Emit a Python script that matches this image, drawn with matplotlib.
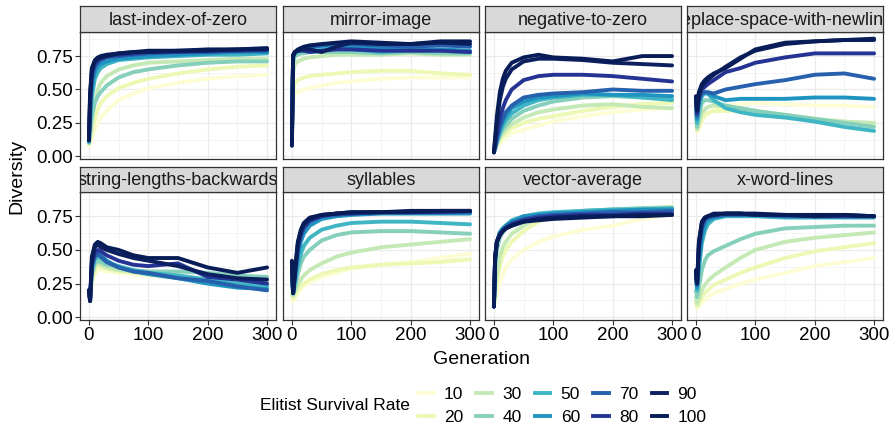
"""
Diversity over generations, one panel per problem, one line per elitist survival rate
"""
import matplotlib
matplotlib.use('Agg')
import matplotlib.pyplot as plt
from matplotlib.lines import Line2D
from matplotlib.ticker import MultipleLocator

plt.rcParams['font.family'] = ['Liberation Sans', 'DejaVu Sans']

gens = [0, 2, 5, 10, 15, 20, 30, 50, 75, 100, 150, 200, 250, 300]
rates = [10, 20, 30, 40, 50, 60, 70, 80, 90, 100]
colors = ['#fdfdd5', '#eef8b5', '#c5e9b5', '#86d0bb', '#40b6c4',
          '#2094c0', '#2761ad', '#253494', '#0c2060', '#081d58']

problems = ['last-index-of-zero', 'mirror-image', 'negative-to-zero',
            'replace-space-with-newline', 'string-lengths-backwards',
            'syllables', 'vector-average', 'x-word-lines']

# one row per survival rate (10 ... 100), one column per generation in gens
last_index_of_zero = [
    [0.08, 0.10, 0.14, 0.20, 0.25, 0.29, 0.34, 0.42, 0.47, 0.51, 0.55, 0.58, 0.60, 0.61],
    [0.09, 0.12, 0.18, 0.28, 0.35, 0.40, 0.45, 0.51, 0.55, 0.58, 0.62, 0.65, 0.67, 0.68],
    [0.10, 0.15, 0.28, 0.42, 0.50, 0.55, 0.60, 0.65, 0.68, 0.70, 0.71, 0.72, 0.73, 0.73],
    [0.10, 0.18, 0.30, 0.40, 0.45, 0.48, 0.53, 0.59, 0.63, 0.65, 0.68, 0.70, 0.71, 0.71],
    [0.11, 0.25, 0.45, 0.58, 0.63, 0.66, 0.69, 0.72, 0.73, 0.74, 0.75, 0.76, 0.76, 0.77],
    [0.11, 0.30, 0.52, 0.63, 0.67, 0.69, 0.71, 0.73, 0.74, 0.75, 0.76, 0.77, 0.78, 0.78],
    [0.12, 0.35, 0.58, 0.67, 0.70, 0.72, 0.74, 0.75, 0.76, 0.77, 0.78, 0.78, 0.79, 0.79],
    [0.12, 0.40, 0.62, 0.69, 0.72, 0.73, 0.75, 0.76, 0.77, 0.78, 0.78, 0.79, 0.79, 0.80],
    [0.12, 0.45, 0.65, 0.71, 0.73, 0.74, 0.75, 0.77, 0.78, 0.78, 0.79, 0.79, 0.80, 0.80],
    [0.12, 0.48, 0.66, 0.72, 0.74, 0.75, 0.76, 0.77, 0.78, 0.79, 0.79, 0.80, 0.80, 0.81],
]
mirror_image = [
    [0.30, 0.40, 0.46, 0.48, 0.49, 0.50, 0.51, 0.53, 0.55, 0.56, 0.58, 0.59, 0.59, 0.59],
    [0.35, 0.48, 0.55, 0.57, 0.58, 0.59, 0.60, 0.61, 0.62, 0.63, 0.64, 0.64, 0.62, 0.61],
    [0.40, 0.62, 0.69, 0.71, 0.72, 0.73, 0.74, 0.75, 0.76, 0.76, 0.76, 0.77, 0.76, 0.76],
    [0.25, 0.70, 0.75, 0.76, 0.77, 0.77, 0.78, 0.78, 0.78, 0.78, 0.77, 0.78, 0.77, 0.77],
    [0.20, 0.73, 0.77, 0.78, 0.79, 0.79, 0.80, 0.81, 0.80, 0.80, 0.78, 0.79, 0.79, 0.78],
    [0.15, 0.74, 0.78, 0.79, 0.80, 0.81, 0.82, 0.83, 0.83, 0.82, 0.81, 0.80, 0.80, 0.79],
    [0.12, 0.75, 0.78, 0.79, 0.80, 0.81, 0.82, 0.83, 0.84, 0.84, 0.83, 0.82, 0.83, 0.82],
    [0.10, 0.75, 0.78, 0.79, 0.79, 0.79, 0.78, 0.79, 0.80, 0.80, 0.79, 0.79, 0.79, 0.78],
    [0.08, 0.75, 0.78, 0.79, 0.80, 0.80, 0.80, 0.78, 0.82, 0.85, 0.84, 0.84, 0.85, 0.84],
    [0.08, 0.76, 0.78, 0.80, 0.81, 0.82, 0.83, 0.84, 0.85, 0.86, 0.85, 0.84, 0.86, 0.86],
]
negative_to_zero = [
    [0.03, 0.05, 0.07, 0.10, 0.12, 0.14, 0.17, 0.20, 0.23, 0.26, 0.30, 0.33, 0.35, 0.36],
    [0.03, 0.05, 0.08, 0.12, 0.15, 0.17, 0.21, 0.25, 0.28, 0.30, 0.34, 0.37, 0.39, 0.40],
    [0.03, 0.05, 0.09, 0.14, 0.17, 0.20, 0.24, 0.29, 0.33, 0.35, 0.38, 0.39, 0.37, 0.36],
    [0.03, 0.06, 0.10, 0.16, 0.20, 0.23, 0.28, 0.34, 0.38, 0.41, 0.44, 0.45, 0.44, 0.43],
    [0.03, 0.06, 0.11, 0.18, 0.23, 0.27, 0.32, 0.38, 0.42, 0.44, 0.46, 0.46, 0.44, 0.42],
    [0.03, 0.06, 0.12, 0.20, 0.26, 0.30, 0.36, 0.41, 0.44, 0.45, 0.47, 0.46, 0.46, 0.45],
    [0.03, 0.07, 0.13, 0.22, 0.28, 0.33, 0.38, 0.44, 0.46, 0.47, 0.48, 0.50, 0.49, 0.49],
    [0.03, 0.08, 0.16, 0.28, 0.36, 0.42, 0.50, 0.57, 0.60, 0.61, 0.61, 0.60, 0.58, 0.56],
    [0.03, 0.12, 0.25, 0.42, 0.52, 0.58, 0.65, 0.71, 0.73, 0.73, 0.72, 0.70, 0.69, 0.68],
    [0.03, 0.14, 0.30, 0.48, 0.58, 0.64, 0.70, 0.74, 0.76, 0.74, 0.73, 0.71, 0.75, 0.75],
]
replace_space_with_newline = [
    [0.30, 0.18, 0.20, 0.26, 0.30, 0.32, 0.35, 0.38, 0.39, 0.40, 0.39, 0.38, 0.38, 0.37],
    [0.30, 0.20, 0.22, 0.28, 0.31, 0.32, 0.34, 0.34, 0.34, 0.33, 0.31, 0.28, 0.26, 0.24],
    [0.32, 0.20, 0.25, 0.32, 0.35, 0.37, 0.38, 0.37, 0.36, 0.34, 0.31, 0.28, 0.26, 0.25],
    [0.35, 0.22, 0.30, 0.40, 0.42, 0.42, 0.41, 0.38, 0.36, 0.34, 0.31, 0.28, 0.25, 0.22],
    [0.38, 0.25, 0.36, 0.45, 0.47, 0.47, 0.42, 0.36, 0.33, 0.31, 0.29, 0.26, 0.22, 0.19],
    [0.40, 0.28, 0.40, 0.47, 0.48, 0.47, 0.45, 0.42, 0.43, 0.43, 0.43, 0.44, 0.44, 0.43],
    [0.42, 0.30, 0.42, 0.47, 0.48, 0.48, 0.47, 0.50, 0.52, 0.54, 0.57, 0.61, 0.62, 0.58],
    [0.43, 0.32, 0.44, 0.50, 0.52, 0.54, 0.57, 0.63, 0.66, 0.70, 0.74, 0.77, 0.77, 0.77],
    [0.44, 0.34, 0.46, 0.52, 0.55, 0.57, 0.61, 0.67, 0.74, 0.79, 0.84, 0.86, 0.87, 0.87],
    [0.45, 0.35, 0.48, 0.54, 0.57, 0.59, 0.62, 0.66, 0.73, 0.80, 0.85, 0.86, 0.87, 0.88],
]
string_lengths_backwards = [
    [0.20, 0.15, 0.25, 0.32, 0.35, 0.35, 0.34, 0.33, 0.32, 0.31, 0.29, 0.27, 0.26, 0.26],
    [0.20, 0.15, 0.27, 0.35, 0.38, 0.37, 0.36, 0.34, 0.33, 0.32, 0.30, 0.28, 0.27, 0.26],
    [0.20, 0.14, 0.30, 0.38, 0.40, 0.39, 0.37, 0.35, 0.34, 0.33, 0.31, 0.28, 0.27, 0.26],
    [0.20, 0.14, 0.32, 0.40, 0.42, 0.41, 0.39, 0.37, 0.35, 0.34, 0.34, 0.33, 0.31, 0.30],
    [0.20, 0.14, 0.35, 0.43, 0.45, 0.44, 0.41, 0.38, 0.35, 0.33, 0.31, 0.28, 0.25, 0.23],
    [0.20, 0.13, 0.38, 0.46, 0.48, 0.46, 0.42, 0.37, 0.34, 0.32, 0.29, 0.25, 0.22, 0.21],
    [0.20, 0.13, 0.38, 0.45, 0.47, 0.45, 0.41, 0.37, 0.34, 0.33, 0.29, 0.27, 0.23, 0.20],
    [0.20, 0.13, 0.40, 0.48, 0.50, 0.49, 0.46, 0.42, 0.39, 0.38, 0.40, 0.30, 0.28, 0.25],
    [0.20, 0.12, 0.42, 0.52, 0.54, 0.52, 0.50, 0.47, 0.44, 0.42, 0.38, 0.32, 0.29, 0.28],
    [0.20, 0.12, 0.45, 0.54, 0.56, 0.55, 0.52, 0.50, 0.46, 0.44, 0.44, 0.37, 0.33, 0.37],
]
syllables = [
    [0.15, 0.12, 0.14, 0.18, 0.21, 0.23, 0.26, 0.30, 0.33, 0.36, 0.39, 0.41, 0.44, 0.47],
    [0.18, 0.14, 0.16, 0.20, 0.23, 0.25, 0.28, 0.32, 0.35, 0.37, 0.39, 0.40, 0.41, 0.43],
    [0.25, 0.16, 0.19, 0.24, 0.28, 0.31, 0.35, 0.40, 0.45, 0.48, 0.52, 0.54, 0.56, 0.58],
    [0.30, 0.17, 0.22, 0.32, 0.40, 0.45, 0.50, 0.57, 0.61, 0.63, 0.64, 0.64, 0.63, 0.62],
    [0.35, 0.18, 0.25, 0.38, 0.47, 0.53, 0.59, 0.65, 0.68, 0.70, 0.71, 0.71, 0.70, 0.69],
    [0.38, 0.18, 0.28, 0.45, 0.56, 0.62, 0.68, 0.73, 0.75, 0.76, 0.77, 0.77, 0.77, 0.77],
    [0.40, 0.18, 0.30, 0.50, 0.60, 0.66, 0.71, 0.75, 0.76, 0.77, 0.78, 0.78, 0.78, 0.78],
    [0.40, 0.18, 0.32, 0.52, 0.62, 0.67, 0.72, 0.75, 0.77, 0.77, 0.78, 0.78, 0.78, 0.79],
    [0.41, 0.18, 0.33, 0.55, 0.64, 0.69, 0.73, 0.76, 0.77, 0.78, 0.78, 0.78, 0.79, 0.79],
    [0.42, 0.18, 0.34, 0.56, 0.65, 0.70, 0.74, 0.76, 0.77, 0.78, 0.78, 0.79, 0.79, 0.79],
]
vector_average = [
    [0.08, 0.12, 0.18, 0.26, 0.32, 0.37, 0.43, 0.50, 0.56, 0.60, 0.65, 0.68, 0.73, 0.76],
    [0.08, 0.18, 0.27, 0.38, 0.45, 0.50, 0.56, 0.64, 0.71, 0.75, 0.78, 0.79, 0.80, 0.81],
    [0.08, 0.22, 0.32, 0.45, 0.52, 0.56, 0.62, 0.68, 0.74, 0.77, 0.79, 0.80, 0.81, 0.82],
    [0.08, 0.35, 0.50, 0.59, 0.63, 0.66, 0.70, 0.74, 0.76, 0.77, 0.79, 0.80, 0.81, 0.81],
    [0.08, 0.40, 0.55, 0.63, 0.66, 0.68, 0.72, 0.75, 0.77, 0.78, 0.79, 0.80, 0.80, 0.81],
    [0.08, 0.42, 0.56, 0.63, 0.66, 0.68, 0.71, 0.75, 0.76, 0.77, 0.78, 0.79, 0.80, 0.80],
    [0.08, 0.43, 0.56, 0.62, 0.65, 0.67, 0.70, 0.73, 0.75, 0.76, 0.77, 0.78, 0.78, 0.79],
    [0.08, 0.44, 0.56, 0.62, 0.64, 0.66, 0.69, 0.72, 0.74, 0.75, 0.76, 0.76, 0.77, 0.77],
    [0.08, 0.44, 0.56, 0.61, 0.64, 0.66, 0.68, 0.71, 0.73, 0.74, 0.75, 0.75, 0.76, 0.76],
    [0.08, 0.45, 0.56, 0.61, 0.64, 0.66, 0.68, 0.71, 0.72, 0.73, 0.74, 0.75, 0.75, 0.76],
]
x_word_lines = [
    [0.10, 0.07, 0.08, 0.11, 0.13, 0.15, 0.18, 0.21, 0.25, 0.28, 0.33, 0.38, 0.41, 0.44],
    [0.12, 0.08, 0.10, 0.15, 0.18, 0.20, 0.24, 0.28, 0.33, 0.37, 0.44, 0.49, 0.52, 0.55],
    [0.15, 0.10, 0.13, 0.20, 0.24, 0.27, 0.31, 0.37, 0.44, 0.50, 0.56, 0.59, 0.61, 0.63],
    [0.20, 0.15, 0.22, 0.35, 0.42, 0.46, 0.49, 0.53, 0.58, 0.62, 0.66, 0.67, 0.68, 0.68],
    [0.28, 0.20, 0.35, 0.55, 0.64, 0.69, 0.73, 0.75, 0.75, 0.75, 0.74, 0.74, 0.74, 0.74],
    [0.30, 0.22, 0.40, 0.60, 0.68, 0.72, 0.74, 0.76, 0.76, 0.76, 0.75, 0.75, 0.75, 0.75],
    [0.32, 0.24, 0.48, 0.66, 0.72, 0.74, 0.75, 0.76, 0.76, 0.76, 0.75, 0.75, 0.75, 0.75],
    [0.33, 0.25, 0.52, 0.69, 0.73, 0.75, 0.76, 0.77, 0.77, 0.76, 0.76, 0.75, 0.75, 0.75],
    [0.34, 0.25, 0.55, 0.70, 0.74, 0.75, 0.76, 0.77, 0.77, 0.76, 0.76, 0.75, 0.76, 0.75],
    [0.35, 0.26, 0.56, 0.71, 0.74, 0.75, 0.77, 0.77, 0.77, 0.77, 0.76, 0.76, 0.76, 0.75],
]

panel_data = [last_index_of_zero, mirror_image, negative_to_zero,
              replace_space_with_newline, string_lengths_backwards,
              syllables, vector_average, x_word_lines]

W, H = 895, 425
fig = plt.figure(figsize=(W / 100, H / 100), dpi=100)

col_left = [80, 283, 485, 687]
panel_w = 196
# (strip top, plot top, plot bottom) in pixels from the top
rows = [(6, 32, 159), (167, 192, 320)]

edge = '#333333'
for i, (name, data) in enumerate(zip(problems, panel_data)):
    r, c = divmod(i, 4)
    st, pt, pb = rows[r]
    x0 = col_left[c]
    ax = fig.add_axes([x0 / W, (H - pb) / H, panel_w / W, (pb - pt) / H])
    sx = fig.add_axes([x0 / W, (H - pt) / H, panel_w / W, (pt - st) / H])

    for k, rate in enumerate(rates):
        ax.plot(gens, data[k], color=colors[k], lw=2.8,
                solid_capstyle='round', solid_joinstyle='round', zorder=3)

    ax.set_xlim(-15, 315)
    ax.set_ylim(-0.02, 0.93)
    ax.xaxis.set_major_locator(MultipleLocator(100))
    ax.xaxis.set_minor_locator(MultipleLocator(50))
    ax.yaxis.set_major_locator(MultipleLocator(0.25))
    ax.yaxis.set_minor_locator(MultipleLocator(0.125))
    ax.grid(True, which='major', color='#ebebeb', lw=0.9, zorder=0)
    ax.grid(True, which='minor', color='#f3f3f3', lw=0.6, zorder=0)
    ax.set_axisbelow(True)
    for s in ax.spines.values():
        s.set_color(edge)
        s.set_linewidth(0.9)
    ax.tick_params(which='minor', length=0)
    ax.tick_params(which='major', length=3.5, width=0.8, color=edge,
                   labelsize=13.5, labelcolor='black', pad=1.5)
    ax.set_yticks([0, 0.25, 0.5, 0.75])
    ax.set_yticklabels(['0.00', '0.25', '0.50', '0.75'])
    if c != 0:
        ax.tick_params(axis='y', length=0, labelleft=False)
    if r != 1:
        ax.tick_params(axis='x', length=0, labelbottom=False)

    sx.set_facecolor('#d9d9d9')
    sx.set_xticks([])
    sx.set_yticks([])
    for s in sx.spines.values():
        s.set_color(edge)
        s.set_linewidth(0.9)
    sx.text(0.5, 0.45, name, ha='center', va='center', fontsize=13,
            color='#1a1a1a', transform=sx.transAxes, clip_on=True)

fig.text(17 / W, 1 - 176 / H, 'Diversity', rotation=90, ha='center',
         va='center', fontsize=14)
fig.text(481 / W, 1 - 359 / H, 'Generation', ha='center', va='center',
         fontsize=14)

handles = [Line2D([], [], color=col, lw=2.8) for col in colors]
fig.legend(handles, [str(r) for r in rates], ncol=5, frameon=False,
           loc='center left', bbox_to_anchor=(418 / W, 1 - 406 / H),
           fontsize=12.5, handlelength=0.9, handletextpad=0.6,
           columnspacing=0.75, labelspacing=0.45, borderpad=0,
           borderaxespad=0)
fig.text(260 / W, 1 - 406 / H, 'Elitist Survival Rate', ha='left',
         va='center', fontsize=12.5)

fig.savefig('out.png', dpi=100)
plt.close(fig)
